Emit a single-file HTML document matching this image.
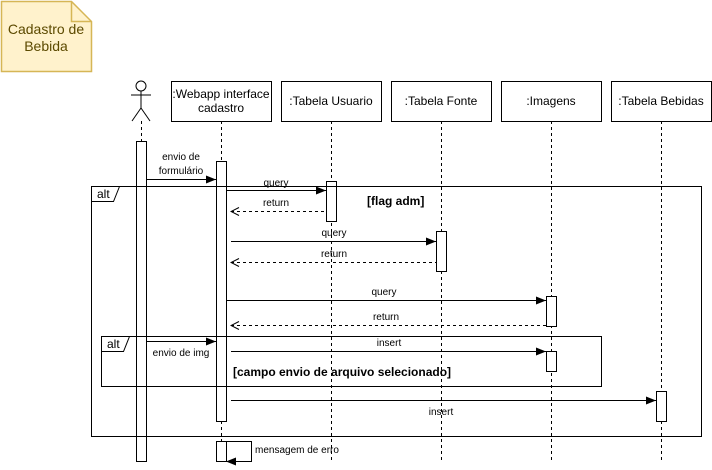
<!DOCTYPE html>
<html><head><meta charset="utf-8"><style>html,body{margin:0;padding:0;background:#fff}svg{display:block}</style></head>
<body>
<svg width="712" height="470" viewBox="0 0 712 470" xmlns="http://www.w3.org/2000/svg" font-family="Liberation Sans, sans-serif" font-size="11">
<defs>
<marker id="f" markerWidth="10" markerHeight="8" refX="10" refY="4" orient="auto" markerUnits="userSpaceOnUse"><path d="M0,0 L10,4 L0,8 z" fill="#000"/></marker>
<marker id="o" markerWidth="10" markerHeight="10" refX="1" refY="5" orient="auto" markerUnits="userSpaceOnUse"><path d="M9,1 L1,5 L9,9" fill="none" stroke="#000"/></marker>
</defs>
<path d="M1.5,1.5 H71.5 L91.5,21.5 V71.5 H1.5 Z" fill="#fff2cc" stroke="#d6b656" stroke-width="1.5"/>
<path d="M71.5,1.5 V21.5 H91.5" fill="none" stroke="#d6b656" stroke-width="1.5"/>
<text x="46" y="34" text-anchor="middle" font-size="14" fill="#5c4a00">Cadastro de</text>
<text x="46" y="51" text-anchor="middle" font-size="14" fill="#5c4a00">Bebida</text>
<g stroke="#000" fill="none">
<circle cx="141" cy="86" r="5" fill="#fff"/>
<line x1="141" y1="91" x2="141" y2="108"/><line x1="131" y1="95" x2="151" y2="95"/>
<line x1="141" y1="108" x2="132" y2="121"/><line x1="141" y1="108" x2="150" y2="121"/>
</g>
<g stroke="#000" stroke-dasharray="3,3">
<line x1="141.5" y1="121" x2="141.5" y2="461"/>
<line x1="221.5" y1="121" x2="221.5" y2="461"/>
<line x1="331.5" y1="121" x2="331.5" y2="461"/>
<line x1="441.5" y1="121" x2="441.5" y2="461"/>
<line x1="551.5" y1="121" x2="551.5" y2="461"/>
<line x1="661.5" y1="121" x2="661.5" y2="461"/>
</g>
<g fill="#fff" stroke="#000">
<rect x="171.5" y="81.5" width="100" height="40"/>
<rect x="281.5" y="81.5" width="100" height="40"/>
<rect x="391.5" y="81.5" width="100" height="40"/>
<rect x="501.5" y="81.5" width="100" height="40"/>
<rect x="611.5" y="81.5" width="100" height="40"/>
</g>
<g text-anchor="middle" font-size="12">
<text x="221" y="98">:Webapp interface</text><text x="221" y="112">cadastro</text>
<text x="331" y="105">:Tabela Usuario</text>
<text x="441" y="105">:Tabela Fonte</text>
<text x="551" y="105">:Imagens</text>
<text x="661" y="105">:Tabela Bebidas</text>
</g>
<g fill="#fff" stroke="#000">
<rect x="136.5" y="141.5" width="10" height="320"/>
<rect x="216.5" y="161.5" width="10" height="260"/>
<rect x="216.5" y="441.5" width="10" height="20"/>
<rect x="326.5" y="181.5" width="10" height="40"/>
<rect x="436.5" y="231.5" width="10" height="40"/>
<rect x="546.5" y="296.5" width="10" height="30"/>
<rect x="546.5" y="351.5" width="10" height="20"/>
<rect x="656.5" y="391.5" width="10" height="30"/>
</g>
<g fill="none" stroke="#000">
<rect x="91.5" y="186.5" width="610" height="250"/>
<path d="M91.5,201.5 H113.5 L119.5,186.5"/>
<rect x="101.5" y="336.5" width="500" height="50"/>
<path d="M101.5,351.5 H123.5 L129.5,336.5"/>
</g>
<text x="97" y="198" font-size="12">alt</text>
<text x="107" y="348" font-size="12">alt</text>
<text x="367" y="205" font-weight="bold" font-size="12">[flag adm]</text>
<text x="233" y="376" font-weight="bold" font-size="12">[campo envio de arquivo selecionado]</text>
<g stroke="#000" fill="none">
<line x1="146" y1="179.5" x2="216" y2="179.5" marker-end="url(#f)"/>
<line x1="226" y1="190.5" x2="326" y2="190.5" marker-end="url(#f)"/>
<line x1="231" y1="211.5" x2="326" y2="211.5" stroke-dasharray="3,3" marker-start="url(#o)"/>
<line x1="231" y1="241.5" x2="436" y2="241.5" marker-end="url(#f)"/>
<line x1="231" y1="262.5" x2="436" y2="262.5" stroke-dasharray="3,3" marker-start="url(#o)"/>
<line x1="226" y1="300.5" x2="546" y2="300.5" marker-end="url(#f)"/>
<line x1="231" y1="325.5" x2="546" y2="325.5" stroke-dasharray="3,3" marker-start="url(#o)"/>
<line x1="146" y1="341.5" x2="216" y2="341.5" marker-end="url(#f)"/>
<line x1="231" y1="351.5" x2="546" y2="351.5" marker-end="url(#f)"/>
<line x1="231" y1="400.5" x2="656" y2="400.5" marker-end="url(#f)"/>
<path d="M226,441.5 H251.5 V461.5 H226" marker-end="url(#f)"/>
</g>
<g font-size="10" text-anchor="middle">
<text x="181" y="160">envio de</text><text x="181" y="174">formulário</text>
<text x="276" y="186">query</text>
<text x="276" y="206">return</text>
<text x="334" y="236">query</text>
<text x="334" y="257">return</text>
<text x="384" y="295">query</text>
<text x="386" y="320">return</text>
<text x="181" y="356">envio de img</text>
<text x="389" y="346">insert</text>
<text x="441" y="415">insert</text>
<text x="255" y="453" text-anchor="start">mensagem de erro</text>
</g>
</svg>
</body></html>
